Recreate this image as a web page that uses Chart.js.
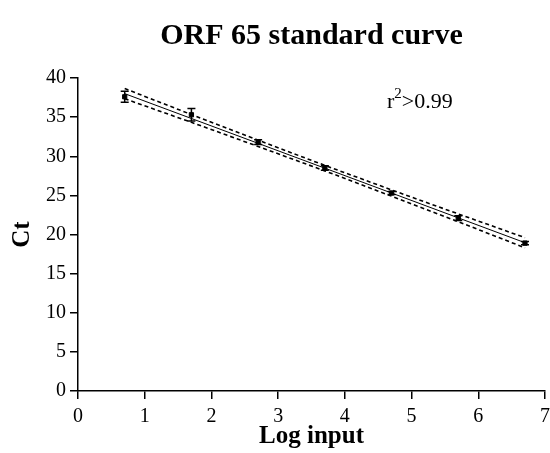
<!DOCTYPE html>
<html>
<head>
<meta charset="utf-8">
<script src="https://cdn.jsdelivr.net/npm/chart.js@4.4.1/dist/chart.umd.min.js"></script>
<style>
  html, body { margin: 0; padding: 0; background: #fff; }
  #wrap { width: 550px; height: 453px; }
</style>
</head>
<body>
<div id="wrap"><canvas id="grafico" width="550" height="453"></canvas></div>
<script>
// valores
const logInput = [0.7, 1.7, 2.7, 3.7, 4.7, 5.7, 6.7];
const ctMedia = [37.6, 35.3, 31.8, 28.5, 25.3, 22.1, 18.9];
const ctErro = [0.7, 0.8, 0.3, 0.3, 0.2, 0.3, 0.2];

// recta de regressao e bandas de confianca (tracejado)
const retaX = [0.7, 6.7];
const retaY = [38.0, 18.95];
const bandaSup = [38.65, 35.33, 32.05, 28.83, 25.7, 22.63, 19.6];
const bandaInf = [37.35, 34.33, 31.25, 28.13, 24.9, 21.63, 18.3];

const ticksX = [0, 1, 2, 3, 4, 5, 6, 7];
const ticksY = [0, 5, 10, 15, 20, 25, 30, 35, 40];

const titulo = 'ORF 65 standard curve';
const serif = '"Liberation Serif", "DejaVu Serif", serif';

function pares(xs, ys) {
  return xs.map((x, i) => ({ x: x, y: ys[i] }));
}

// barras de erro + titulo + r2
const extras = {
  id: 'extras',
  afterDatasetsDraw(chart) {
    const ctx = chart.ctx;
    const sx = chart.scales.x, sy = chart.scales.y;
    ctx.save();
    ctx.strokeStyle = '#000';
    ctx.lineWidth = 1.5;
    logInput.forEach((x, i) => {
      const px = sx.getPixelForValue(x);
      const top = sy.getPixelForValue(ctMedia[i] + ctErro[i]);
      const bot = sy.getPixelForValue(ctMedia[i] - ctErro[i]);
      ctx.beginPath();
      ctx.moveTo(px, top); ctx.lineTo(px, bot);
      ctx.moveTo(px - 4, top); ctx.lineTo(px + 4, top);
      ctx.moveTo(px - 4, bot); ctx.lineTo(px + 4, bot);
      ctx.stroke();
    });
    ctx.restore();
  },
  afterDraw(chart) {
    const ctx = chart.ctx;
    const area = chart.chartArea;
    ctx.save();
    ctx.fillStyle = '#000';
    ctx.textAlign = 'center';
    ctx.textBaseline = 'alphabetic';
    ctx.font = 'bold 30px ' + serif;
    ctx.fillText(titulo, (area.left + area.right) / 2, 44);

    // r^2 > 0.99
    ctx.textAlign = 'left';
    let x = 387;
    const base = 108;
    ctx.font = '22px ' + serif;
    ctx.fillText('r', x, base);
    x += ctx.measureText('r').width;
    ctx.font = '15px ' + serif;
    ctx.fillText('2', x, base - 10);
    x += ctx.measureText('2').width;
    ctx.font = '22px ' + serif;
    ctx.fillText('>0.99', x, base);
    ctx.restore();
  }
};

const eixoComum = {
  type: 'linear',
  grid: { display: true, drawOnChartArea: false, drawTicks: true, tickLength: 8, color: '#000', lineWidth: 1.5 },
  border: { display: true, color: '#000', width: 1.5 }
};

new Chart(document.getElementById('grafico'), {
  type: 'scatter',
  data: {
    datasets: [
      {
        label: 'Ct',
        data: pares(logInput, ctMedia),
        backgroundColor: '#000',
        borderColor: '#000',
        pointStyle: 'rect',
        pointRadius: 3,
        order: 0
      },
      {
        label: 'Regressao',
        type: 'line',
        data: pares(retaX, retaY),
        borderColor: '#000',
        borderWidth: 1,
        pointRadius: 0,
        fill: false,
        order: 1
      },
      {
        label: 'IC superior',
        type: 'line',
        data: pares(logInput, bandaSup),
        borderColor: '#000',
        borderWidth: 1.6,
        borderDash: [4, 3],
        pointRadius: 0,
        fill: false,
        order: 2
      },
      {
        label: 'IC inferior',
        type: 'line',
        data: pares(logInput, bandaInf),
        borderColor: '#000',
        borderWidth: 1.6,
        borderDash: [4, 3],
        pointRadius: 0,
        fill: false,
        order: 2
      }
    ]
  },
  options: {
    responsive: false,
    animation: false,
    layout: { padding: { top: 78, right: 5, left: 0, bottom: 0 } },
    plugins: { legend: { display: false }, tooltip: { enabled: false }, title: { display: false } },
    scales: {
      x: {
        ...eixoComum,
        min: 0, max: 7,
        afterBuildTicks: s => { s.ticks = ticksX.map(v => ({ value: v })); },
        afterFit: s => { s.height = 62; s.paddingRight = 5; s.paddingLeft = 5; },
        ticks: { color: '#000', padding: 6, font: { family: serif, size: 20 } },
        title: { display: true, text: 'Log input', color: '#000', padding: { top: 0, bottom: 1 }, font: { family: serif, size: 25, weight: 'bold' } }
      },
      y: {
        ...eixoComum,
        min: 0, max: 40,
        afterBuildTicks: s => { s.ticks = ticksY.map(v => ({ value: v })); },
        afterFit: s => { s.width = 78; },
        ticks: { color: '#000', padding: 4, font: { family: serif, size: 20 } },
        title: { display: true, text: 'Ct', color: '#000', padding: { top: 8, bottom: 0 }, font: { family: serif, size: 25, weight: 'bold' } }
      }
    }
  },
  plugins: [extras]
});
</script>
</body>
</html>
